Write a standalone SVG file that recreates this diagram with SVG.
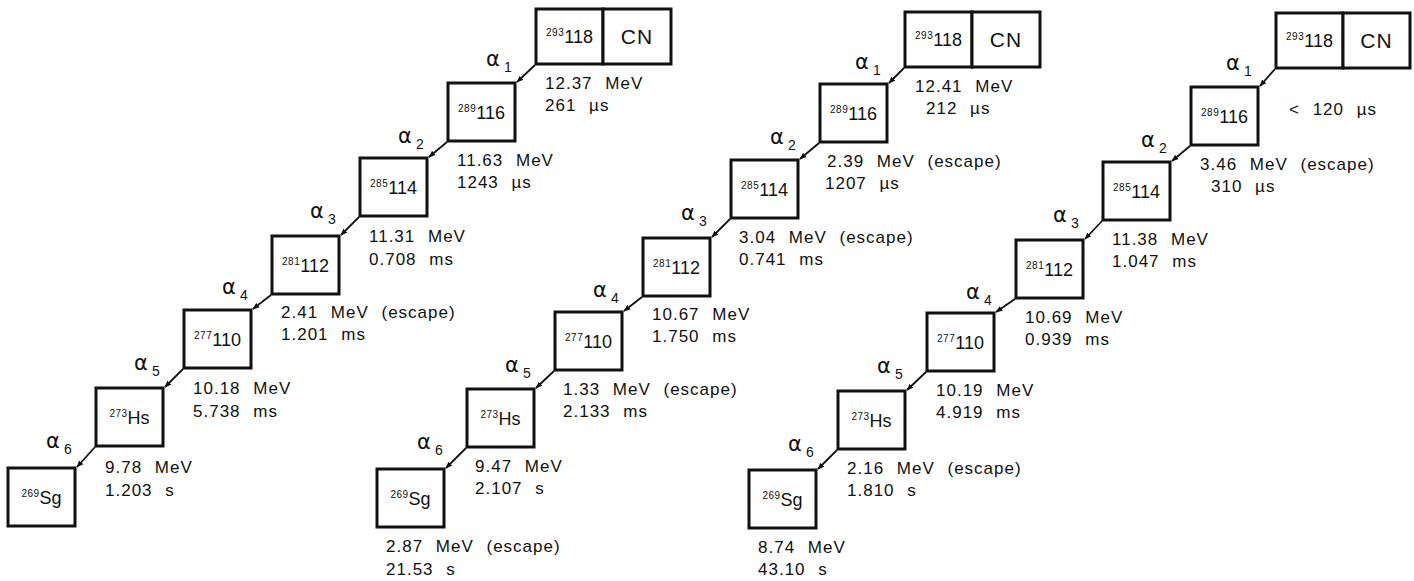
<svg xmlns="http://www.w3.org/2000/svg" width="1414" height="581" viewBox="0 0 1414 581">
<style>
  .box{fill:#fff;stroke:#111;stroke-width:3}
  .nuc{font-family:"Liberation Sans",Arial,sans-serif;font-size:18px;fill:#111;text-anchor:middle}
  .mass{font-size:10px;letter-spacing:0.5px}
  .cn{font-family:"Liberation Sans",Arial,sans-serif;font-size:21px;fill:#111;text-anchor:middle;letter-spacing:1px}
  .lbl{font-family:"Liberation Sans",Arial,sans-serif;font-size:17px;fill:#111;letter-spacing:1px;word-spacing:7px}
  .al{font-family:"DejaVu Sans",sans-serif;font-size:21px;fill:#111}
  .sub{font-family:"Liberation Sans",Arial,sans-serif;font-size:14px;fill:#111}
  .con{stroke:#111;stroke-width:1.8;fill:none;marker-end:url(#ah)}
</style>
<defs>
  <marker id="ah" viewBox="0 0 10 10" refX="9" refY="5" markerWidth="7" markerHeight="7" markerUnits="userSpaceOnUse" orient="auto">
    <path d="M0,1 L10,5 L0,9 z" fill="#111"/>
  </marker>
</defs>
<rect width="1414" height="581" fill="#fff"/>

<!-- ===== Chain 1 ===== -->
<g id="c1-n0"><rect class="box" x="536" y="9" width="67" height="55"/><rect class="box" x="603" y="9" width="68" height="55"/>
  <text class="nuc" x="569.5" y="43"><tspan class="mass" dy="-7">293</tspan><tspan dy="7">118</tspan></text>
  <text class="cn" x="637" y="44">CN</text></g>
<g id="c1-n1"><rect class="box" x="448" y="83" width="67" height="58"/><text class="nuc" x="481.5" y="119"><tspan class="mass" dy="-7">289</tspan><tspan dy="7">116</tspan></text></g>
<g id="c1-n2"><rect class="box" x="360" y="158" width="67" height="58"/><text class="nuc" x="393.5" y="194"><tspan class="mass" dy="-7">285</tspan><tspan dy="7">114</tspan></text></g>
<g id="c1-n3"><rect class="box" x="272" y="236" width="67" height="58"/><text class="nuc" x="305.5" y="272"><tspan class="mass" dy="-7">281</tspan><tspan dy="7">112</tspan></text></g>
<g id="c1-n4"><rect class="box" x="184" y="310" width="67" height="58"/><text class="nuc" x="217.5" y="346"><tspan class="mass" dy="-7">277</tspan><tspan dy="7">110</tspan></text></g>
<g id="c1-n5"><rect class="box" x="96" y="388" width="67" height="58"/><text class="nuc" x="129.5" y="424"><tspan class="mass" dy="-7">273</tspan><tspan dy="7">Hs</tspan></text></g>
<g id="c1-n6"><rect class="box" x="8" y="468" width="67" height="58"/><text class="nuc" x="41.5" y="504"><tspan class="mass" dy="-7">269</tspan><tspan dy="7">Sg</tspan></text></g>

<!-- ===== Chain 2 ===== -->
<g id="c2-n0"><rect class="box" x="905" y="12" width="67" height="55"/><rect class="box" x="972" y="12" width="68" height="55"/>
  <text class="nuc" x="938.5" y="46"><tspan class="mass" dy="-7">293</tspan><tspan dy="7">118</tspan></text>
  <text class="cn" x="1006" y="47">CN</text></g>
<g id="c2-n1"><rect class="box" x="820" y="84" width="67" height="58"/><text class="nuc" x="853.5" y="120"><tspan class="mass" dy="-7">289</tspan><tspan dy="7">116</tspan></text></g>
<g id="c2-n2"><rect class="box" x="731" y="160" width="67" height="58"/><text class="nuc" x="764.5" y="196"><tspan class="mass" dy="-7">285</tspan><tspan dy="7">114</tspan></text></g>
<g id="c2-n3"><rect class="box" x="643" y="238" width="67" height="58"/><text class="nuc" x="676.5" y="274"><tspan class="mass" dy="-7">281</tspan><tspan dy="7">112</tspan></text></g>
<g id="c2-n4"><rect class="box" x="555" y="312" width="67" height="58"/><text class="nuc" x="588.5" y="348"><tspan class="mass" dy="-7">277</tspan><tspan dy="7">110</tspan></text></g>
<g id="c2-n5"><rect class="box" x="467" y="389" width="67" height="58"/><text class="nuc" x="500.5" y="425"><tspan class="mass" dy="-7">273</tspan><tspan dy="7">Hs</tspan></text></g>
<g id="c2-n6"><rect class="box" x="377" y="469" width="67" height="58"/><text class="nuc" x="410.5" y="505"><tspan class="mass" dy="-7">269</tspan><tspan dy="7">Sg</tspan></text></g>

<!-- ===== Chain 3 ===== -->
<g id="c3-n0"><rect class="box" x="1276" y="13" width="67" height="55"/><rect class="box" x="1343" y="13" width="67" height="55"/>
  <text class="nuc" x="1309.5" y="47"><tspan class="mass" dy="-7">293</tspan><tspan dy="7">118</tspan></text>
  <text class="cn" x="1376.5" y="48">CN</text></g>
<g id="c3-n1"><rect class="box" x="1191" y="87" width="67" height="58"/><text class="nuc" x="1224.5" y="123"><tspan class="mass" dy="-7">289</tspan><tspan dy="7">116</tspan></text></g>
<g id="c3-n2"><rect class="box" x="1103" y="162" width="67" height="58"/><text class="nuc" x="1136.5" y="198"><tspan class="mass" dy="-7">285</tspan><tspan dy="7">114</tspan></text></g>
<g id="c3-n3"><rect class="box" x="1016" y="240" width="67" height="58"/><text class="nuc" x="1049.5" y="276"><tspan class="mass" dy="-7">281</tspan><tspan dy="7">112</tspan></text></g>
<g id="c3-n4"><rect class="box" x="927" y="313" width="67" height="58"/><text class="nuc" x="960.5" y="349"><tspan class="mass" dy="-7">277</tspan><tspan dy="7">110</tspan></text></g>
<g id="c3-n5"><rect class="box" x="838" y="391" width="67" height="58"/><text class="nuc" x="871.5" y="427"><tspan class="mass" dy="-7">273</tspan><tspan dy="7">Hs</tspan></text></g>
<g id="c3-n6"><rect class="box" x="749" y="470" width="67" height="58"/><text class="nuc" x="782.5" y="506"><tspan class="mass" dy="-7">269</tspan><tspan dy="7">Sg</tspan></text></g>

<!-- ===== Connectors ===== -->
<g id="connectors">
  <line class="con" x1="535" y1="65" x2="517" y2="82"/>
  <line class="con" x1="447" y1="142" x2="429" y2="157"/>
  <line class="con" x1="359" y1="217" x2="341" y2="235"/>
  <line class="con" x1="271" y1="295" x2="253" y2="309"/>
  <line class="con" x1="183" y1="369" x2="165" y2="387"/>
  <line class="con" x1="95" y1="447" x2="77" y2="467"/>

  <line class="con" x1="904" y1="68" x2="889" y2="83"/>
  <line class="con" x1="819" y1="143" x2="800" y2="159"/>
  <line class="con" x1="730" y1="219" x2="712" y2="237"/>
  <line class="con" x1="642" y1="297" x2="624" y2="311"/>
  <line class="con" x1="554" y1="371" x2="536" y2="388"/>
  <line class="con" x1="466" y1="448" x2="446" y2="468"/>

  <line class="con" x1="1275" y1="69" x2="1260" y2="86"/>
  <line class="con" x1="1190" y1="146" x2="1172" y2="161"/>
  <line class="con" x1="1102" y1="221" x2="1085" y2="239"/>
  <line class="con" x1="1015" y1="299" x2="996" y2="312"/>
  <line class="con" x1="926" y1="372" x2="907" y2="390"/>
  <line class="con" x1="837" y1="450" x2="818" y2="469"/>
</g>

<!-- ===== Alpha labels ===== -->
<g id="alpha-labels">
  <text class="al" x="486" y="66">α</text><text class="sub" x="504" y="72">1</text>
  <text class="al" x="398" y="143">α</text><text class="sub" x="416" y="149">2</text>
  <text class="al" x="310" y="218">α</text><text class="sub" x="328" y="224">3</text>
  <text class="al" x="222" y="294">α</text><text class="sub" x="240" y="300">4</text>
  <text class="al" x="134" y="370">α</text><text class="sub" x="152" y="376">5</text>
  <text class="al" x="46" y="448">α</text><text class="sub" x="64" y="454">6</text>

  <text class="al" x="855" y="69">α</text><text class="sub" x="873" y="75">1</text>
  <text class="al" x="770" y="144">α</text><text class="sub" x="788" y="150">2</text>
  <text class="al" x="681" y="220">α</text><text class="sub" x="699" y="226">3</text>
  <text class="al" x="593" y="297">α</text><text class="sub" x="611" y="303">4</text>
  <text class="al" x="505" y="372">α</text><text class="sub" x="523" y="378">5</text>
  <text class="al" x="417" y="449">α</text><text class="sub" x="435" y="455">6</text>

  <text class="al" x="1226" y="70">α</text><text class="sub" x="1244" y="76">1</text>
  <text class="al" x="1141" y="147">α</text><text class="sub" x="1159" y="153">2</text>
  <text class="al" x="1053" y="222">α</text><text class="sub" x="1071" y="228">3</text>
  <text class="al" x="966" y="299">α</text><text class="sub" x="984" y="305">4</text>
  <text class="al" x="877" y="373">α</text><text class="sub" x="895" y="379">5</text>
  <text class="al" x="788" y="451">α</text><text class="sub" x="806" y="457">6</text>
</g>

<!-- ===== Energy / time labels ===== -->
<g id="labels">
  <text class="lbl" x="545" y="89">12.37 MeV</text><text class="lbl" x="545" y="111">261 µs</text>
  <text class="lbl" x="457" y="166">11.63 MeV</text><text class="lbl" x="457" y="188">1243 µs</text>
  <text class="lbl" x="369" y="242">11.31 MeV</text><text class="lbl" x="369" y="265">0.708 ms</text>
  <text class="lbl" x="281" y="318">2.41 MeV (escape)</text><text class="lbl" x="281" y="340">1.201 ms</text>
  <text class="lbl" x="193" y="394">10.18 MeV</text><text class="lbl" x="193" y="417">5.738 ms</text>
  <text class="lbl" x="105" y="473">9.78 MeV</text><text class="lbl" x="105" y="496">1.203 s</text>

  <text class="lbl" x="915" y="92">12.41 MeV</text><text class="lbl" x="926" y="114">212 µs</text>
  <text class="lbl" x="827" y="167">2.39 MeV (escape)</text><text class="lbl" x="825" y="189">1207 µs</text>
  <text class="lbl" x="739" y="243">3.04 MeV (escape)</text><text class="lbl" x="739" y="265">0.741 ms</text>
  <text class="lbl" x="652" y="320">10.67 MeV</text><text class="lbl" x="652" y="342">1.750 ms</text>
  <text class="lbl" x="563" y="395">1.33 MeV (escape)</text><text class="lbl" x="563" y="417">2.133 ms</text>
  <text class="lbl" x="475" y="472">9.47 MeV</text><text class="lbl" x="475" y="494">2.107 s</text>
  <text class="lbl" x="386" y="552">2.87 MeV (escape)</text><text class="lbl" x="386" y="575">21.53 s</text>

  <text class="lbl" x="1289" y="115">&lt; 120 µs</text>
  <text class="lbl" x="1200" y="170">3.46 MeV (escape)</text><text class="lbl" x="1211" y="192">310 µs</text>
  <text class="lbl" x="1112" y="245">11.38 MeV</text><text class="lbl" x="1112" y="267">1.047 ms</text>
  <text class="lbl" x="1025" y="323">10.69 MeV</text><text class="lbl" x="1025" y="345">0.939 ms</text>
  <text class="lbl" x="936" y="396">10.19 MeV</text><text class="lbl" x="936" y="418">4.919 ms</text>
  <text class="lbl" x="847" y="474">2.16 MeV (escape)</text><text class="lbl" x="847" y="496">1.810 s</text>
  <text class="lbl" x="758" y="553">8.74 MeV</text><text class="lbl" x="758" y="575">43.10 s</text>
</g>
</svg>
